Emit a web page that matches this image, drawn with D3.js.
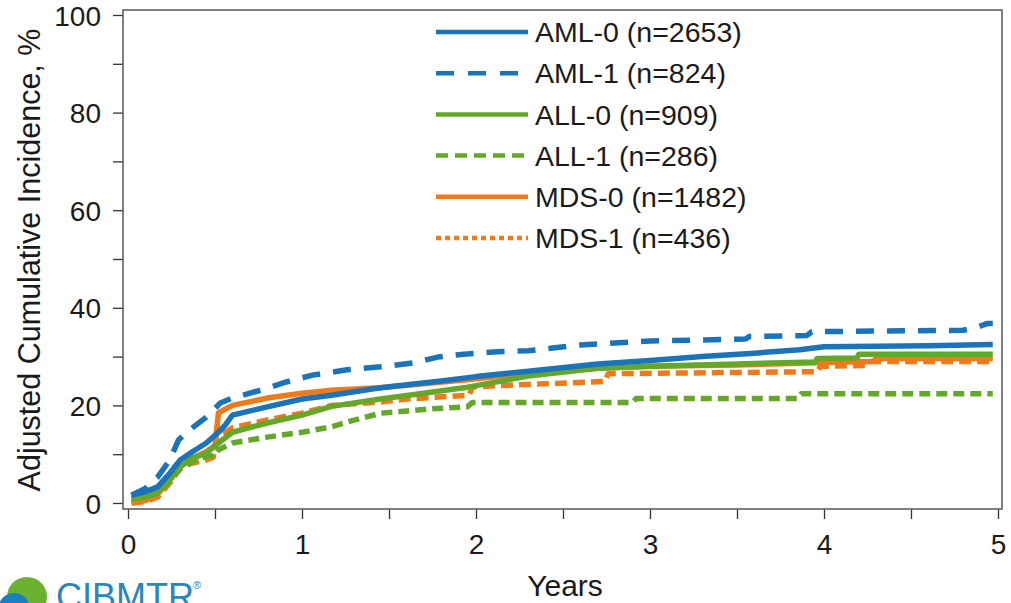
<!DOCTYPE html>
<html>
<head>
<meta charset="utf-8">
<script src="https://cdn.jsdelivr.net/npm/d3@7"></script>
<style>
  body { margin: 0; background: #fff; }
  text { font-family: "Liberation Sans", Arial, sans-serif; }
</style>
</head>
<body>
<div class="chart"></div>
<script>
var width = 1011;
var height = 603;

// series values: [years, %]
var aml0 = [[0.02,1.6],[0.1,2.3],[0.17,3.3],[0.24,6.1],[0.3,8.8],[0.37,10.5],[0.45,12.3],[0.52,14.5],[0.56,16.0],[0.6,18.0],[0.8,19.7],[1.0,21.3],[1.17,22.1],[1.45,23.6],[1.8,25.0],[2.0,25.9],[2.3,27.0],[2.7,28.5],[3.0,29.2],[3.3,30.0],[3.6,30.7],[3.86,31.4],[4.0,32.0],[4.6,32.2],[4.97,32.5]];
var aml1 = [[0.02,1.6],[0.1,3.0],[0.17,5.3],[0.24,8.8],[0.29,12.9],[0.37,15.4],[0.45,17.6],[0.53,20.5],[0.6,21.5],[0.8,23.5],[0.91,24.8],[1.06,26.2],[1.26,27.3],[1.45,27.9],[1.64,28.7],[1.78,29.9],[1.93,30.5],[2.12,31.0],[2.3,31.2],[2.6,32.4],[3.0,33.2],[3.55,33.6],[3.57,34.1],[3.9,34.3],[3.93,35.1],[4.8,35.4],[4.88,36.0],[4.94,36.8],[4.97,36.8]];
var all0 = [[0.02,1.0],[0.1,1.2],[0.17,2.3],[0.24,4.7],[0.3,7.4],[0.37,9.2],[0.45,10.2],[0.52,12.3],[0.6,14.5],[0.8,16.4],[1.0,18.0],[1.17,19.8],[1.45,21.3],[1.7,22.5],[1.93,23.6],[2.3,26.0],[2.7,27.6],[3.0,28.0],[3.5,28.5],[3.95,28.9],[3.96,29.6],[4.19,29.7],[4.2,30.5],[4.97,30.5]];
var all1 = [[0.02,0.8],[0.1,1.2],[0.17,2.0],[0.24,4.5],[0.3,7.0],[0.37,8.5],[0.45,9.5],[0.5,9.8],[0.52,10.9],[0.6,12.3],[0.8,13.5],[1.0,14.5],[1.17,15.6],[1.26,16.6],[1.45,18.4],[1.74,19.3],[1.95,19.7],[1.98,20.6],[2.9,20.6],[2.92,21.4],[3.85,21.4],[3.87,22.4],[4.97,22.4]];
var mds0 = [[0.02,0.0],[0.1,0.5],[0.17,1.8],[0.24,4.7],[0.3,7.4],[0.37,9.2],[0.45,10.5],[0.5,11.8],[0.52,18.5],[0.6,20.0],[0.8,21.5],[1.0,22.5],[1.17,23.1],[1.45,23.6],[1.93,25.2],[2.3,26.6],[2.7,27.6],[3.0,28.0],[3.5,28.3],[4.0,28.8],[4.28,29.0],[4.3,29.6],[4.97,29.6]];
var mds1 = [[0.02,0.0],[0.1,0.3],[0.17,1.2],[0.24,4.1],[0.3,7.2],[0.37,8.2],[0.45,8.8],[0.49,9.4],[0.51,13.3],[0.6,15.4],[0.8,17.0],[1.0,18.4],[1.17,20.0],[1.45,20.7],[1.6,21.3],[1.96,22.1],[1.98,23.8],[2.3,24.3],[2.74,24.9],[2.76,26.5],[3.96,26.9],[3.98,28.0],[4.24,28.2],[4.26,29.0],[4.97,29.0]];

var seriesNames = ["AML-0 (n=2653)", "AML-1 (n=824)", "ALL-0 (n=909)", "ALL-1 (n=286)", "MDS-0 (n=1482)", "MDS-1 (n=436)"];
var seriesValues = [aml0, aml1, all0, all1, mds0, mds1];

var xTicks = [0, 1, 2, 3, 4, 5];
var yTicks = [0, 20, 40, 60, 80, 100];

var blue = "#1b73ba", green = "#64a72a", orange = "#ee7a1b";
var styles = [
  {color: blue,   dash: null,    legendDash: null},
  {color: blue,   dash: "18,13", legendDash: "18,14"},
  {color: green,  dash: null,    legendDash: null},
  {color: green,  dash: "11,6",  legendDash: "12,7"},
  {color: orange, dash: null,    legendDash: null},
  {color: orange, dash: "12,6",  legendDash: "5,4"}
];

var box = {left: 123, top: 10, right: 1002, bottom: 509};

var x = d3.scaleLinear().domain([0, 5]).range([128, 998]);
var y = d3.scaleLinear().domain([0, 100]).range([503, 15]);

var svg = d3.select(".chart")
    .append("svg")
    .attr("width", width)
    .attr("height", height);

svg.append("defs").append("clipPath").attr("id", "plotclip")
    .append("rect")
    .attr("x", box.left).attr("y", box.top)
    .attr("width", box.right - box.left).attr("height", box.bottom - box.top);

// axes
var yAxis = d3.axisLeft(y)
    .tickValues(d3.range(0, 101, 10))
    .tickSize(10)
    .tickFormat(function(d){ return yTicks.indexOf(d) >= 0 ? d : ""; });
var gy = svg.append("g")
    .attr("transform", "translate(" + box.left + ",0)")
    .call(yAxis);

var xAxis = d3.axisBottom(x)
    .tickValues(d3.range(0, 5.01, 0.5))
    .tickSize(10)
    .tickFormat(function(d){ return xTicks.indexOf(d) >= 0 ? d : ""; });
var gx = svg.append("g")
    .attr("transform", "translate(0," + box.bottom + ")")
    .call(xAxis);

[gx, gy].forEach(function(g){
  g.select(".domain").remove();
  g.selectAll("line").attr("stroke", "#333").attr("stroke-width", 1.3);
  g.selectAll("text")
    .attr("font-family", "Liberation Sans, Arial, sans-serif")
    .attr("font-size", 28)
    .attr("fill", "#1a1a1a");
});
gy.selectAll("text").attr("x", -22).attr("dy", "0.36em");
gx.selectAll("text").attr("y", 25);

svg.append("rect")
    .attr("x", box.left).attr("y", box.top)
    .attr("width", box.right - box.left).attr("height", box.bottom - box.top)
    .attr("fill", "none")
    .attr("stroke", "#555")
    .attr("stroke-width", 1.5);

// curves
var line = d3.line()
    .x(function(d){ return x(d[0]); })
    .y(function(d){ return y(d[1]); });

var drawOrder = [4, 5, 2, 3, 0, 1];
svg.append("g").attr("clip-path", "url(#plotclip)")
  .selectAll("path")
  .data(drawOrder)
  .enter()
  .append("path")
  .attr("d", function(i){ return line(seriesValues[i]); })
  .attr("fill", "none")
  .attr("stroke", function(i){ return styles[i].color; })
  .attr("stroke-width", 5.5)
  .attr("stroke-linejoin", "round")
  .attr("stroke-dasharray", function(i){ return styles[i].dash; });

// legend
var legend = svg.append("g");
var rows = legend.selectAll("g")
  .data(seriesNames)
  .enter()
  .append("g")
  .attr("transform", function(d, i){ return "translate(436," + (32 + i * 41.2) + ")"; });
rows.append("line")
  .attr("x1", 0).attr("x2", 92)
  .attr("stroke", function(d, i){ return styles[i].color; })
  .attr("stroke-width", 4.5)
  .attr("stroke-dasharray", function(d, i){ return styles[i].legendDash; });
rows.append("text")
  .attr("x", 99)
  .attr("dy", "0.36em")
  .attr("font-size", 28.5)
  .attr("fill", "#1a1a1a")
  .text(function(d){ return d; });

// axis titles
svg.append("text")
  .attr("transform", "translate(40,260) rotate(-90)")
  .attr("text-anchor", "middle")
  .attr("font-size", 30.5)
  .attr("fill", "#1a1a1a")
  .text("Adjusted Cumulative Incidence, %");

svg.append("text")
  .attr("x", 565).attr("y", 596)
  .attr("text-anchor", "middle")
  .attr("font-size", 30)
  .attr("fill", "#1a1a1a")
  .text("Years");

// CIBMTR logo
var logo = svg.append("g");
logo.append("circle").attr("cx", 27).attr("cy", 597).attr("r", 20).attr("fill", "#69b12e");
logo.append("circle").attr("cx", 14).attr("cy", 609).attr("r", 16).attr("fill", "#1b7dc2");
logo.append("text")
  .attr("x", 56).attr("y", 609)
  .attr("font-size", 36)
  .attr("fill", "#2a86b8")
  .text("CIBMTR");
logo.append("text")
  .attr("x", 193).attr("y", 589)
  .attr("font-size", 11)
  .attr("fill", "#2a86b8")
  .text("®");
</script>
</body>
</html>
